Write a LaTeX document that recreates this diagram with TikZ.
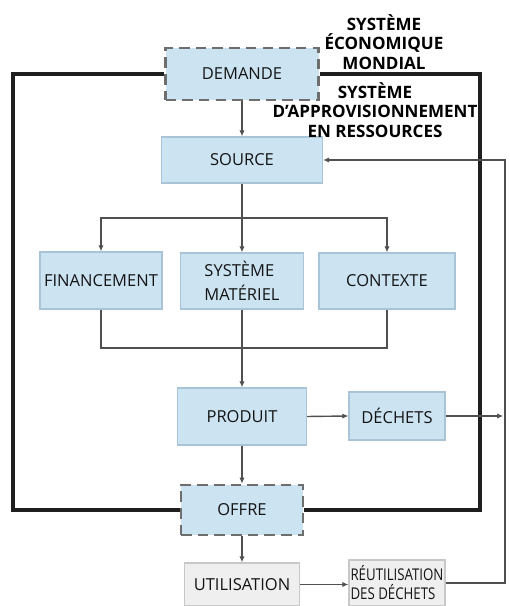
\documentclass[tikz,border=0pt]{standalone}
\usepackage{fontspec}
\setmainfont{Open Sans}
\newfontfamily\narrowfont[FakeStretch=0.82]{Open Sans}
\usepackage{xcolor}
\usepackage{tikz}
\usetikzlibrary{arrows.meta}
\definecolor{boxblue}{HTML}{CCE3F1}
\definecolor{boxline}{HTML}{A9C4D6}
\definecolor{greyfill}{HTML}{EFEFEF}
\definecolor{greyline}{HTML}{C8C8C8}
\definecolor{wirecol}{HTML}{505050}
\definecolor{dashcol}{HTML}{6E6E6E}

\begin{document}
\begin{tikzpicture}[
		font=\fontsize{9.4}{11}\selectfont,
		bloc/.style={draw=boxline, fill=boxblue, line width=0.6pt, inner sep=0pt, text=black!92},
		dashbloc/.style={bloc, draw=dashcol, line width=1.4pt, dash pattern=on 6pt off 3.5pt},
		greybloc/.style={bloc, draw=greyline, fill=greyfill},
		frame/.style={line width=2pt, black!88},
		wire/.style={draw=wirecol, line width=0.8pt},
		title/.style={font=\fontsize{9.7}{10.9}\selectfont\bfseries, align=center},
		>={Latex[length=3.5pt,width=3pt]}]
		\useasboundingbox (0,0) rectangle (10.18,12.12);
		%
		\node[dashbloc, minimum width=3.06cm, minimum height=1.04cm] (D) at (4.84,10.64) {DEMANDE};
		\node[bloc, minimum width=3.22cm, minimum height=0.92cm] (S) at (4.84,8.92) {SOURCE};
		\node[bloc, minimum width=2.44cm, minimum height=1.14cm] (F) at (2.02,6.51) {FINANCEMENT};
		\node[bloc, minimum width=2.46cm, minimum height=1.12cm, align=left,
			font=\fontsize{9.4}{14}\selectfont] (M) at (4.84,6.50) {SYSTÈME\\MATÉRIEL};
		\node[bloc, minimum width=2.72cm, minimum height=1.12cm] (C) at (7.74,6.50) {CONTEXTE};
		\node[bloc, minimum width=2.58cm, minimum height=1.14cm] (P) at (4.84,3.79) {PRODUIT};
		\node[bloc, minimum width=1.92cm, minimum height=0.96cm] (W) at (7.94,3.80) {DÉCHETS};
		\node[dashbloc, minimum width=2.44cm, minimum height=1.00cm] (O) at (4.84,1.92) {OFFRE};
		\node[greybloc, minimum width=2.30cm, minimum height=0.86cm] (U) at (4.84,0.43) {UTILISATION};
		\node[greybloc, minimum width=1.92cm, minimum height=0.92cm, align=left,
			font=\narrowfont\fontsize{9.2}{10.8}\selectfont] (R) at (7.94,0.46) {RÉUTILISATION\\DES DÉCHETS};
		%
		\node[title] (eco) at (7.68,11.28) {SYSTÈME\\ÉCONOMIQUE\\MONDIAL};
		\node[title] (appro) at (7.50,9.92) {SYSTÈME\\D’APPROVISIONNEMENT\\EN RESSOURCES};
		%
		\coordinate (fl) at (0.26,1.92);
		\coordinate (fr) at (9.60,1.92);
		\draw[frame] (D.west) -| (fl) -- (O.west);
		\draw[frame] (D.east) -| (fr) -- (O.east);
		%
		\coordinate (split) at (4.84,7.76);
		\coordinate (merge) at (4.84,5.16);
		\coordinate (ret) at (10.10,8.92);
		%
		\draw[wire,->] (D) -- (S);
		\draw[wire] (S.south) -- (split);
		\draw[wire,->] (split) -| (F.north);
		\draw[wire,->] (split) -| (C.north);
		\draw[wire,->] (split) -- (M.north);
		\draw[wire] (F.south) -- (F.south |- merge) -- (C.south |- merge) -- (C.south);
		\draw[wire,->] (M.south) -- (P.north);
		\draw[wire,->] (P.east) -- (W.west);
		\draw[wire,->,shorten >=1pt] (W.east) -- (W.east -| ret);
		\draw[wire,->] (P.south) -- (O.north);
		\draw[wire,->] (O.south) -- (U.north);
		\draw[wire,->] (U.east) -- (U.east -| R.west);
		\draw[wire,->] (R.east) -- (R.east -| ret) -- (ret) -- (S.east);
	\end{tikzpicture}
\end{document}
